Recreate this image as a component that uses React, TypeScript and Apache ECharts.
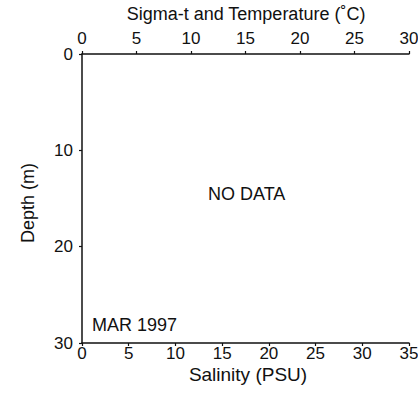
import React, { useEffect, useRef } from "react";
import * as echarts from "echarts";

const topTicks = [0, 5, 10, 15, 20, 25, 30];
const bottomTicks = [0, 5, 10, 15, 20, 25, 30, 35];
const depthTicks = [0, 10, 20, 30];
const salinity: [number, number][] = [];
const temperature: [number, number][] = [];
const sigmaT: [number, number][] = [];
const FONT = "Liberation Sans";

export default function App() {
  const ref = useRef<HTMLDivElement>(null);
  useEffect(() => {
    const chart = echarts.init(ref.current!, null, { renderer: "svg" });
    const lineStyle = { color: "#111", width: 1.5 };
    const tickStyle = { show: true, length: 3, lineStyle: { color: "#111", width: 1.2 } };
    const txt = (text: string, x: number, y: number, size: number, align = "center", rotation = 0) => ({
      type: "text",
      x,
      y,
      rotation,
      style: {
        text,
        fill: "#111",
        font: `${size}px ${FONT}`,
        textAlign: align,
        textVerticalAlign: "middle",
      },
    });
    chart.setOption({
      animation: false,
      backgroundColor: "#fff",
      textStyle: { fontFamily: FONT },
      grid: {
        left: 82,
        right: 9,
        top: 54,
        bottom: 55,
        containLabel: false,
        outerBoundsMode: "none",
      },
      xAxis: [
        {
          type: "value",
          position: "top",
          min: topTicks[0],
          max: topTicks[topTicks.length - 1],
          interval: 5,
          axisLine: { show: true, lineStyle },
          axisTick: tickStyle,
          splitLine: { show: false },
          axisLabel: { color: "#111", fontFamily: FONT, fontSize: 17, margin: 7 },
        },
        {
          type: "value",
          position: "bottom",
          min: bottomTicks[0],
          max: bottomTicks[bottomTicks.length - 1],
          interval: 5,
          axisLine: { show: true, lineStyle },
          axisTick: tickStyle,
          splitLine: { show: false },
          axisLabel: { color: "#111", fontFamily: FONT, fontSize: 17, margin: 2 },
        },
      ],
      yAxis: {
        type: "value",
        inverse: true,
        min: depthTicks[0],
        max: depthTicks[depthTicks.length - 1],
        interval: 10,
        axisLine: { show: true, lineStyle },
        axisTick: tickStyle,
        splitLine: { show: false },
        axisLabel: { color: "#111", fontFamily: FONT, fontSize: 17, margin: 9 },
      },
      series: [
        { type: "line", name: "Salinity", xAxisIndex: 1, data: salinity },
        { type: "line", name: "Temperature", xAxisIndex: 0, data: temperature },
        { type: "line", name: "Sigma-t", xAxisIndex: 0, data: sigmaT },
      ],
      graphic: [
        txt("Sigma-t and Temperature (˚C)", 246, 14, 18),
        txt("Salinity (PSU)", 248, 374, 19),
        txt("Depth (m)", 28, 203, 18, "center", Math.PI / 2),
        txt("NO DATA", 208, 194, 18, "left"),
        txt("MAR 1997", 92, 325, 18, "left"),
      ],
    });
    return () => chart.dispose();
  }, []);
  return (
    <div
      ref={ref}
      style={{ position: "absolute", left: 0, top: 0, width: 418, height: 398 }}
    />
  );
}
